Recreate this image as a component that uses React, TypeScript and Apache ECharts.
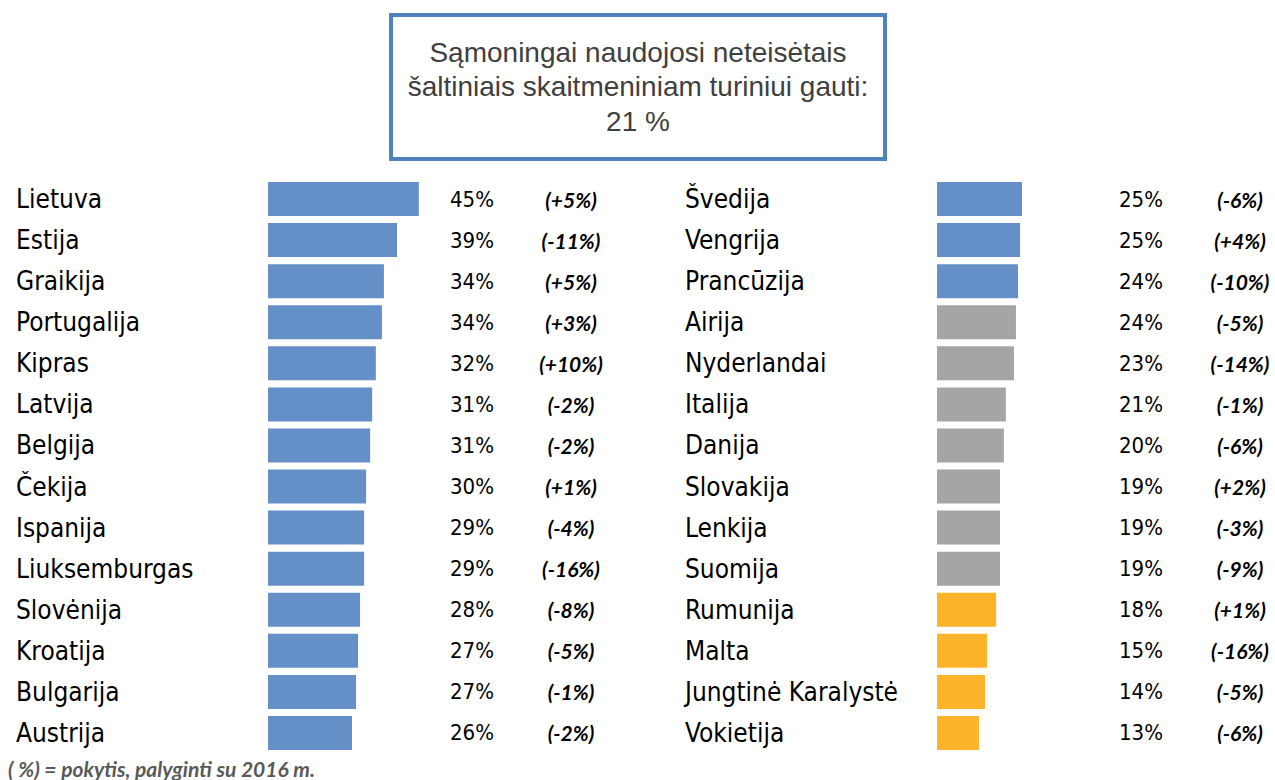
import React, { useEffect, useRef } from "react";
import * as echarts from "echarts";

const leftCountries = ["Lietuva", "Estija", "Graikija", "Portugalija", "Kipras", "Latvija", "Belgija", "Čekija", "Ispanija", "Liuksemburgas", "Slovėnija", "Kroatija", "Bulgarija", "Austrija"];
const leftShares = [44.9, 38.4, 34.5, 33.9, 32.1, 31.0, 30.4, 29.2, 28.6, 28.6, 27.4, 26.8, 26.2, 25.0];
const leftLabels = ["45%", "39%", "34%", "34%", "32%", "31%", "31%", "30%", "29%", "29%", "28%", "27%", "27%", "26%"];
const leftChanges = ["(+5%)", "(-11%)", "(+5%)", "(+3%)", "(+10%)", "(-2%)", "(-2%)", "(+1%)", "(-4%)", "(-16%)", "(-8%)", "(-5%)", "(-1%)", "(-2%)"];
const leftGroups = ["high", "high", "high", "high", "high", "high", "high", "high", "high", "high", "high", "high", "high", "high"];

const rightCountries = ["Švedija", "Vengrija", "Prancūzija", "Airija", "Nyderlandai", "Italija", "Danija", "Slovakija", "Lenkija", "Suomija", "Rumunija", "Malta", "Jungtinė Karalystė", "Vokietija"];
const rightShares = [25.3, 24.7, 24.1, 23.5, 22.9, 20.5, 19.9, 18.75, 18.75, 18.75, 17.6, 14.9, 14.3, 12.5];
const rightLabels = ["25%", "25%", "24%", "24%", "23%", "21%", "20%", "19%", "19%", "19%", "18%", "15%", "14%", "13%"];
const rightChanges = ["(-6%)", "(+4%)", "(-10%)", "(-5%)", "(-14%)", "(-1%)", "(-6%)", "(+2%)", "(-3%)", "(-9%)", "(+1%)", "(-16%)", "(-5%)", "(-6%)"];
const rightGroups = ["high", "high", "high", "mid", "mid", "mid", "mid", "mid", "mid", "mid", "low", "low", "low", "low"];

const titleLines = ["Sąmoningai naudojosi neteisėtais", "šaltiniais skaitmeniniam turiniui gauti:", "21 %"];
const footnote = "( %) = pokytis, palyginti su 2016 m.";

const groupColors: Record<string, string> = { high: "#658FC7", mid: "#A5A5A5", low: "#FDB42A" };

const NARROW = "'Liberation Sans Narrow', 'Arial Narrow', 'DejaVu Sans Condensed', sans-serif";
const CAL = "Lato, 'Open Sans', sans-serif";

export default function App() {
  const ref = useRef<HTMLDivElement>(null);
  useEffect(() => {
    if (!ref.current) return;
    const chart = echarts.init(ref.current, null, { renderer: "svg" });
    const gridTop = 178.5;
    const gridH = 575;
    const gridW = 168;
    const grids = [
      { left: 268, top: gridTop, width: gridW, height: gridH },
      { left: 937, top: gridTop, width: gridW, height: gridH },
    ];
    const panels = [
      { c: leftCountries, s: leftShares, l: leftLabels, ch: leftChanges, g: leftGroups },
      { c: rightCountries, s: rightShares, l: rightLabels, ch: rightChanges, g: rightGroups },
    ];
    const xAxis: any[] = [];
    const yAxis: any[] = [];
    const series: any[] = [];
    panels.forEach((p, i) => {
      xAxis.push({ gridIndex: i, type: "value", min: 0, max: 50, show: false });
      yAxis.push({
        gridIndex: i,
        type: "category",
        inverse: true,
        data: p.c,
        axisLine: { show: false },
        axisTick: { show: false },
        splitLine: { show: false },
        axisLabel: { interval: 0, align: "left", margin: 252, fontFamily: NARROW, fontSize: 26, color: "#000" },
      });
      series.push({
        type: "bar",
        xAxisIndex: i,
        yAxisIndex: i,
        barWidth: 34,
        data: p.s.map((v, k) => ({ value: v, itemStyle: { color: groupColors[p.g[k]] } })),
        label: {
          show: true,
          position: [182, "50%"],
          align: "left",
          verticalAlign: "middle",
          fontFamily: NARROW,
          fontSize: 22,
          color: "#000",
          formatter: (d: any) => p.l[d.dataIndex],
        },
      });
      series.push({
        type: "bar",
        xAxisIndex: i,
        yAxisIndex: i,
        barWidth: 34,
        barGap: "-100%",
        silent: true,
        itemStyle: { color: "rgba(0,0,0,0)" },
        data: p.s,
        label: {
          show: true,
          position: [303, "50%"],
          align: "center",
          verticalAlign: "middle",
          fontFamily: CAL,
          fontStyle: "italic",
          fontWeight: "bold",
          fontSize: 21,
          color: "#000",
          formatter: (d: any) => p.ch[d.dataIndex],
        },
      });
    });
    chart.setOption({
      animation: false,
      grid: grids,
      xAxis,
      yAxis,
      series,
      graphic: [
        { type: "rect", shape: { x: 391, y: 15, width: 494, height: 144 }, style: { fill: "#fff", stroke: "#4F81BD", lineWidth: 4 } },
        ...titleLines.map((t, k) => ({
          type: "text",
          x: 638,
          y: 52 + k * 34.5,
          style: { text: t, fill: "#404040", font: "28px 'Liberation Sans', Arial, sans-serif", textAlign: "center", textVerticalAlign: "middle" },
        })),
        { type: "text", x: 8, y: 779, style: { text: footnote, fill: "#595959", font: `italic bold 21px ${CAL}`, textAlign: "left", textVerticalAlign: "bottom" } },
      ],
    });
    return () => chart.dispose();
  }, []);
  return <div ref={ref} style={{ position: "absolute", left: 0, top: 0, width: 1275, height: 780 }} />;
}
